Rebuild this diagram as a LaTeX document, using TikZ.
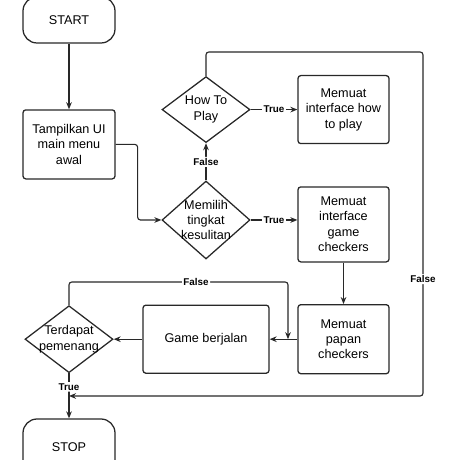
\documentclass[tikz,border=0pt]{standalone}
\usepackage{fontspec}
\setmainfont{Liberation Sans}
\usetikzlibrary{shapes, arrows.meta, positioning, calc}
\definecolor{flowline}{RGB}{40, 40, 40}

\begin{document}
\begin{tikzpicture}[
  fbox/.style={draw=flowline, line width=0.9pt, rounded corners=2pt, align=center, minimum width=2.3cm, inner sep=2pt, font=\fontsize{9}{11}\selectfont},
  fterm/.style={draw=flowline, line width=0.9pt, rounded corners=0.35cm, minimum width=2.3cm, font=\fontsize{9}{11}\selectfont},
  fdec/.style={draw=flowline, line width=0.9pt, diamond, minimum width=2.2cm, inner sep=0pt},
  dtext/.style={align=center, font=\fontsize{9}{11}\selectfont},
  lbl/.style={fill=white, inner sep=1pt, font=\fontsize{7}{8}\selectfont\bfseries},
  flow/.style={draw=flowline, line width=0.8pt, rounded corners=2pt, -{Stealth[length=5pt, width=4pt]}}
]
  \useasboundingbox (0,0) rectangle (11.5,11.5);
  \clip (0,0) rectangle (11.5,11.5);

  \node[fterm, minimum height=1.15cm] (start) at (1.725, 11.0) {START};
  \node[fbox, minimum height=1.725cm] (tampil) at (1.725, 7.89) {Tampilkan UI\\main menu\\awal};
  \node[fdec, minimum height=1.65cm, label={[dtext]center:How To\\Play}] (howto) at (5.15, 8.76) {};
  \node[fdec, minimum height=1.95cm, label={[dtext]center:Memilih\\tingkat\\kesulitan}] (pilih) at (5.15, 6.0) {};
  \node[fbox, minimum width=2.275cm, minimum height=1.7cm] (muathow) at (8.5875, 8.76) {Memuat\\interface how\\to play};
  \node[fbox, minimum width=2.275cm, minimum height=1.875cm] (muatgame) at (8.5875, 5.89) {Memuat\\interface\\game\\checkers};
  \node[fbox, minimum width=2.275cm, minimum height=1.725cm] (papan) at (8.5875, 3.02) {Memuat\\papan\\checkers};
  \node[fbox, minimum width=3.15cm, minimum height=1.7cm] (jalan) at (5.15, 3.02) {Game berjalan};
  \node[fdec, minimum height=1.675cm, label={[dtext]center:Terdapat\\pemenang}] (menang) at (1.725, 3.02) {};
  \node[fterm, minimum height=1.4cm] (stop) at (1.725, 0.325) {STOP};

  \coordinate (kanan) at (10.575, 10.2);
  \coordinate (balik) at (1.725, 1.6);
  \coordinate (atas) at (7.2, 4.45);
  \coordinate (sambung) at (7.2, 3.02);

  \draw[flow] (start) -- (tampil);
  \draw[flow] (tampil.east) -- ++(0.55, 0) |- (pilih.west);
  \draw[flow] (pilih) -- node[lbl]{False} (howto);
  \draw[flow] (howto) -- node[lbl]{True} (muathow);
  \draw[flow] (pilih.east) -- node[lbl]{True} (muatgame.west |- pilih.east);
  \draw[flow] (muatgame) -- (papan);
  \draw[flow] (papan) -- (jalan);
  \draw[flow] (jalan) -- (menang);
  \draw[flow] (menang) -- node[lbl, pos=0.3]{True} (stop);
  \draw[flow] (howto.north) -- (howto.north |- kanan) -- (kanan) -- node[lbl, pos=0.66]{False} (kanan |- balik) -- (balik);
  \draw[flow] (menang.north) -- (menang.north |- atas) -- node[lbl, pos=0.58]{False} (atas) -- (sambung);
\end{tikzpicture}
\end{document}
